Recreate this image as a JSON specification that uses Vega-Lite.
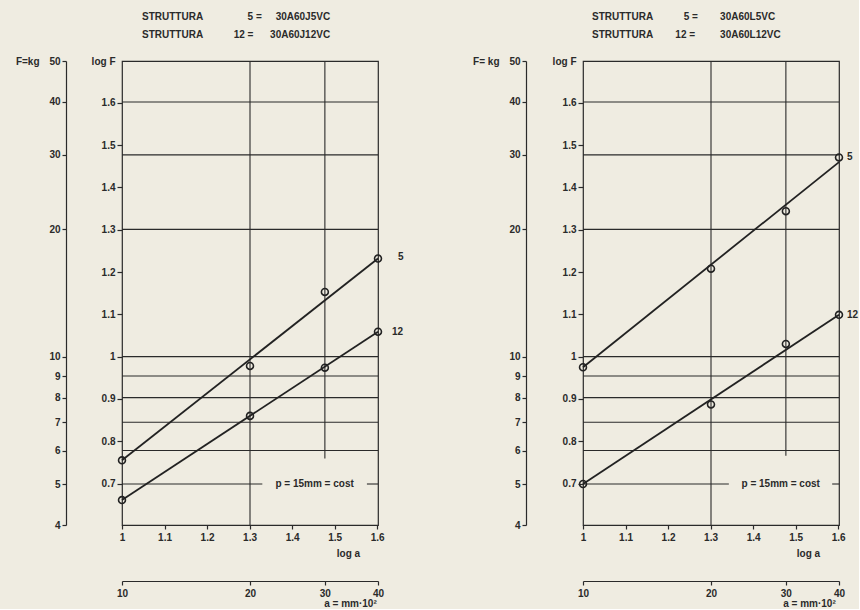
{
  "$schema": "https://vega.github.io/schema/vega-lite/v6.json",
  "autosize": {"type": "pad"},
  "padding": {"left": 14, "top": 11, "right": 0, "bottom": 0},
  "background": "#efece1",
  "datasets": {
    "hgrid": [
      {"panel": "L", "logF": 0.69897, "from": 1, "to": 1.33},
      {"panel": "L", "logF": 0.69897, "from": 1.576, "to": 1.60206},
      {"panel": "L", "logF": 0.77815, "from": 1, "to": 1.60206},
      {"panel": "L", "logF": 0.8451, "from": 1, "to": 1.60206},
      {"panel": "L", "logF": 0.90309, "from": 1, "to": 1.60206},
      {"panel": "L", "logF": 0.95424, "from": 1, "to": 1.60206},
      {"panel": "L", "logF": 1, "from": 1, "to": 1.60206},
      {"panel": "L", "logF": 1.30103, "from": 1, "to": 1.60206},
      {"panel": "L", "logF": 1.47712, "from": 1, "to": 1.60206},
      {"panel": "L", "logF": 1.60206, "from": 1, "to": 1.60206},
      {"panel": "R", "logF": 0.69897, "from": 1, "to": 1.343},
      {"panel": "R", "logF": 0.69897, "from": 1.586, "to": 1.60206},
      {"panel": "R", "logF": 0.77815, "from": 1, "to": 1.60206},
      {"panel": "R", "logF": 0.8451, "from": 1, "to": 1.60206},
      {"panel": "R", "logF": 0.90309, "from": 1, "to": 1.60206},
      {"panel": "R", "logF": 0.95424, "from": 1, "to": 1.60206},
      {"panel": "R", "logF": 1, "from": 1, "to": 1.60206},
      {"panel": "R", "logF": 1.30103, "from": 1, "to": 1.60206},
      {"panel": "R", "logF": 1.47712, "from": 1, "to": 1.60206},
      {"panel": "R", "logF": 1.60206, "from": 1, "to": 1.60206}
    ],
    "vgrid": [
      {"panel": "L", "loga": 1.30103, "from": 0.60206, "to": 1.69897},
      {"panel": "L", "loga": 1.47712, "from": 0.759, "to": 1.69897},
      {"panel": "R", "loga": 1.30103, "from": 0.60206, "to": 1.69897},
      {"panel": "R", "loga": 1.47712, "from": 0.766, "to": 1.69897}
    ],
    "points": [
      {"panel": "L", "series": "5", "loga": 1, "logF": 0.755},
      {"panel": "L", "series": "5", "loga": 1.30103, "logF": 0.978},
      {"panel": "L", "series": "5", "loga": 1.47712, "logF": 1.153},
      {"panel": "L", "series": "5", "loga": 1.60206, "logF": 1.232},
      {"panel": "L", "series": "12", "loga": 1, "logF": 0.661},
      {"panel": "L", "series": "12", "loga": 1.30103, "logF": 0.86},
      {"panel": "L", "series": "12", "loga": 1.47712, "logF": 0.974},
      {"panel": "L", "series": "12", "loga": 1.60206, "logF": 1.059},
      {"panel": "R", "series": "5", "loga": 1, "logF": 0.975},
      {"panel": "R", "series": "5", "loga": 1.30103, "logF": 1.208},
      {"panel": "R", "series": "5", "loga": 1.47712, "logF": 1.344},
      {"panel": "R", "series": "5", "loga": 1.60206, "logF": 1.471},
      {"panel": "R", "series": "12", "loga": 1, "logF": 0.699},
      {"panel": "R", "series": "12", "loga": 1.30103, "logF": 0.887},
      {"panel": "R", "series": "12", "loga": 1.47712, "logF": 1.03},
      {"panel": "R", "series": "12", "loga": 1.60206, "logF": 1.099}
    ],
    "fits": [
      {"panel": "L", "series": "5", "loga": 1, "logF": 0.755},
      {"panel": "L", "series": "5", "loga": 1.60206, "logF": 1.232},
      {"panel": "L", "series": "12", "loga": 1, "logF": 0.661},
      {"panel": "L", "series": "12", "loga": 1.60206, "logF": 1.059},
      {"panel": "R", "series": "5", "loga": 1, "logF": 0.975},
      {"panel": "R", "series": "5", "loga": 1.60206, "logF": 1.46},
      {"panel": "R", "series": "12", "loga": 1, "logF": 0.699},
      {"panel": "R", "series": "12", "loga": 1.60206, "logF": 1.099}
    ],
    "tags": [
      {"panel": "L", "series": "5", "loga": 1.60206, "logF": 1.232},
      {"panel": "L", "series": "12", "loga": 1.60206, "logF": 1.059},
      {"panel": "R", "series": "5", "loga": 1.60206, "logF": 1.471},
      {"panel": "R", "series": "12", "loga": 1.60206, "logF": 1.099}
    ],
    "notes": [
      {"panel": "L", "loga": 1.453, "logF": 0.69897, "text": "p = 15mm = cost"},
      {"panel": "R", "loga": 1.465, "logF": 0.69897, "text": "p = 15mm = cost"}
    ]
  },
  "hconcat": [
    {
      "width": 256,
      "height": 464,
      "title": {
        "text": [
          "STRUTTURA\u00a0\u00a0\u00a0\u00a0\u00a0\u00a0\u00a0\u00a0\u00a0\u00a0\u00a0\u00a0\u00a0\u00a0\u00a0\u00a05\u00a0=\u00a0\u00a0\u00a0\u00a0\u00a030A60J5VC",
          "STRUTTURA\u00a0\u00a0\u00a0\u00a0\u00a0\u00a0\u00a0\u00a0\u00a0\u00a0\u00a012\u00a0=\u00a0\u00a0\u00a0\u00a0\u00a0\u00a030A60J12VC"
        ],
        "dx": 20
      },
      "layer": [
        {
          "layer": [
            {
              "data": {"name": "hgrid"},
              "transform": [{"filter": "datum.panel == 'L'"}],
              "mark": {"type": "rule", "color": "#2a2a2a", "strokeWidth": 1.1},
              "encoding": {
                "x": {"field": "from", "type": "quantitative", "scale": {"domain": [1, 1.60206], "nice": false, "zero": false},
                  "axis": {"orient": "bottom", "values": [1, 1.1, 1.2, 1.3, 1.4, 1.5, 1.6], "labelExpr": "datum.value == 1 ? '1' : format(datum.value, '.1f')", "labelOverlap": false, "domain": false, "tickSize": 4, "labelPadding": 3, "labelFlush": false, "title": "log a", "titleX": 226, "titleY": 28, "titleBaseline": "middle"}},
                "x2": {"field": "to"},
                "y": {"field": "logF", "type": "quantitative", "scale": {"domain": [0.60206, 1.69897], "nice": false, "zero": false},
                  "axis": {"orient": "left", "values": [0.6, 0.7, 0.8, 0.9, 1, 1.1, 1.2, 1.3, 1.4, 1.5, 1.6], "labelExpr": "datum.value == 1 ? '1' : format(datum.value, '.1f')", "labelOverlap": false, "domain": false, "tickSize": 5, "labelPadding": 2, "title": "log F", "titleAngle": 0, "titleAlign": "right", "titleBaseline": "middle", "titleX": -7, "titleY": 0}}
              }
            },
            {
              "data": {"name": "vgrid"},
              "transform": [{"filter": "datum.panel == 'L'"}],
              "mark": {"type": "rule", "color": "#2a2a2a", "strokeWidth": 1.1},
              "encoding": {
                "x": {"field": "loga", "type": "quantitative"},
                "y": {"field": "from", "type": "quantitative"},
                "y2": {"field": "to"}
              }
            },
            {
              "data": {"name": "fits"},
              "transform": [{"filter": "datum.panel == 'L'"}],
              "mark": {"type": "line", "color": "#222222", "strokeWidth": 1.8},
              "encoding": {
                "x": {"field": "loga", "type": "quantitative"},
                "y": {"field": "logF", "type": "quantitative"},
                "detail": {"field": "series"}
              }
            },
            {
              "data": {"name": "points"},
              "transform": [{"filter": "datum.panel == 'L'"}],
              "mark": {"type": "point", "shape": "circle", "filled": false, "size": 48, "color": "#222222", "strokeWidth": 1.6, "opacity": 1},
              "encoding": {
                "x": {"field": "loga", "type": "quantitative"},
                "y": {"field": "logF", "type": "quantitative"}
              }
            },
            {
              "data": {"name": "tags"},
              "transform": [{"filter": "datum.panel == 'L' && datum.series == '5'"}],
              "mark": {"type": "text", "align": "left", "baseline": "middle", "dx": 20, "dy": -2, "fontSize": 10, "fontWeight": "bold", "color": "#2a2a2a"},
              "encoding": {
                "x": {"field": "loga", "type": "quantitative"},
                "y": {"field": "logF", "type": "quantitative"},
                "text": {"field": "series"}
              }
            },
            {
              "data": {"name": "tags"},
              "transform": [{"filter": "datum.panel == 'L' && datum.series == '12'"}],
              "mark": {"type": "text", "align": "left", "baseline": "middle", "dx": 14, "fontSize": 10, "fontWeight": "bold", "color": "#2a2a2a"},
              "encoding": {
                "x": {"field": "loga", "type": "quantitative"},
                "y": {"field": "logF", "type": "quantitative"},
                "text": {"field": "series"}
              }
            },
            {
              "data": {"name": "notes"},
              "transform": [{"filter": "datum.panel == 'L'"}],
              "mark": {"type": "text", "align": "center", "baseline": "middle", "fontSize": 10, "fontWeight": "bold", "color": "#2a2a2a"},
              "encoding": {
                "x": {"field": "loga", "type": "quantitative"},
                "y": {"field": "logF", "type": "quantitative"},
                "text": {"field": "text"}
              }
            }
          ]
        },
        {
          "data": {"name": "points"},
          "transform": [{"filter": "datum.panel == 'L'"}],
          "mark": {"type": "point", "opacity": 0},
          "encoding": {
            "x": {"field": "loga", "type": "quantitative", "scale": {"domain": [1, 1.60206], "nice": false, "zero": false},
              "axis": {"orient": "bottom", "offset": 56, "values": [1, 1.30103, 1.47712, 1.60206], "labelExpr": "format(pow(10, datum.value), '.0f')", "labelOverlap": false, "domain": true, "tickSize": 4, "labelPadding": 3, "labelFlush": false, "title": "a = mm·10²", "titleX": 228, "titleY": 22, "titleBaseline": "middle"}},
            "y": {"field": "logF", "type": "quantitative", "scale": {"domain": [0.60206, 1.69897], "nice": false, "zero": false},
              "axis": {"orient": "left", "offset": 56, "values": [0.60206, 0.69897, 0.77815, 0.8451, 0.90309, 0.95424, 1, 1.30103, 1.47712, 1.60206, 1.69897], "labelExpr": "format(pow(10, datum.value), '.0f')", "labelOverlap": false, "domain": true, "tickSize": 4, "labelPadding": 2, "title": "F=kg", "titleAngle": 0, "titleAlign": "right", "titleBaseline": "middle", "titleX": -27, "titleY": 0}}
          }
        }
      ],
      "resolve": {"scale": {"x": "independent", "y": "independent"}}
    },
    {
      "width": 256,
      "height": 464,
      "title": {
        "text": [
          "STRUTTURA\u00a0\u00a0\u00a0\u00a0\u00a0\u00a0\u00a0\u00a0\u00a0\u00a0\u00a05\u00a0=\u00a0\u00a0\u00a0\u00a0\u00a0\u00a0\u00a0\u00a030A60L5VC",
          "STRUTTURA\u00a0\u00a0\u00a0\u00a0\u00a0\u00a0\u00a0\u00a012\u00a0=\u00a0\u00a0\u00a0\u00a0\u00a0\u00a0\u00a0\u00a0\u00a030A60L12VC"
        ],
        "dx": 9
      },
      "layer": [
        {
          "layer": [
            {
              "data": {"name": "hgrid"},
              "transform": [{"filter": "datum.panel == 'R'"}],
              "mark": {"type": "rule", "color": "#2a2a2a", "strokeWidth": 1.1},
              "encoding": {
                "x": {"field": "from", "type": "quantitative", "scale": {"domain": [1, 1.60206], "nice": false, "zero": false},
                  "axis": {"orient": "bottom", "values": [1, 1.1, 1.2, 1.3, 1.4, 1.5, 1.6], "labelExpr": "datum.value == 1 ? '1' : format(datum.value, '.1f')", "labelOverlap": false, "domain": false, "tickSize": 4, "labelPadding": 3, "labelFlush": false, "title": "log a", "titleX": 225, "titleY": 28, "titleBaseline": "middle"}},
                "x2": {"field": "to"},
                "y": {"field": "logF", "type": "quantitative", "scale": {"domain": [0.60206, 1.69897], "nice": false, "zero": false},
                  "axis": {"orient": "left", "values": [0.6, 0.7, 0.8, 0.9, 1, 1.1, 1.2, 1.3, 1.4, 1.5, 1.6], "labelExpr": "datum.value == 1 ? '1' : format(datum.value, '.1f')", "labelOverlap": false, "domain": false, "tickSize": 5, "labelPadding": 2, "title": "log F", "titleAngle": 0, "titleAlign": "right", "titleBaseline": "middle", "titleX": -7, "titleY": 0}}
              }
            },
            {
              "data": {"name": "vgrid"},
              "transform": [{"filter": "datum.panel == 'R'"}],
              "mark": {"type": "rule", "color": "#2a2a2a", "strokeWidth": 1.1},
              "encoding": {
                "x": {"field": "loga", "type": "quantitative"},
                "y": {"field": "from", "type": "quantitative"},
                "y2": {"field": "to"}
              }
            },
            {
              "data": {"name": "fits"},
              "transform": [{"filter": "datum.panel == 'R'"}],
              "mark": {"type": "line", "color": "#222222", "strokeWidth": 1.8},
              "encoding": {
                "x": {"field": "loga", "type": "quantitative"},
                "y": {"field": "logF", "type": "quantitative"},
                "detail": {"field": "series"}
              }
            },
            {
              "data": {"name": "points"},
              "transform": [{"filter": "datum.panel == 'R'"}],
              "mark": {"type": "point", "shape": "circle", "filled": false, "size": 48, "color": "#222222", "strokeWidth": 1.6, "opacity": 1},
              "encoding": {
                "x": {"field": "loga", "type": "quantitative"},
                "y": {"field": "logF", "type": "quantitative"}
              }
            },
            {
              "data": {"name": "tags"},
              "transform": [{"filter": "datum.panel == 'R'"}],
              "mark": {"type": "text", "align": "left", "baseline": "middle", "dx": 8, "fontSize": 10, "fontWeight": "bold", "color": "#2a2a2a"},
              "encoding": {
                "x": {"field": "loga", "type": "quantitative"},
                "y": {"field": "logF", "type": "quantitative"},
                "text": {"field": "series"}
              }
            },
            {
              "data": {"name": "notes"},
              "transform": [{"filter": "datum.panel == 'R'"}],
              "mark": {"type": "text", "align": "center", "baseline": "middle", "fontSize": 10, "fontWeight": "bold", "color": "#2a2a2a"},
              "encoding": {
                "x": {"field": "loga", "type": "quantitative"},
                "y": {"field": "logF", "type": "quantitative"},
                "text": {"field": "text"}
              }
            }
          ]
        },
        {
          "data": {"name": "points"},
          "transform": [{"filter": "datum.panel == 'R'"}],
          "mark": {"type": "point", "opacity": 0},
          "encoding": {
            "x": {"field": "loga", "type": "quantitative", "scale": {"domain": [1, 1.60206], "nice": false, "zero": false},
              "axis": {"orient": "bottom", "offset": 56, "values": [1, 1.30103, 1.47712, 1.60206], "labelExpr": "format(pow(10, datum.value), '.0f')", "labelOverlap": false, "domain": true, "tickSize": 4, "labelPadding": 3, "labelFlush": false, "title": "a = mm·10²", "titleX": 226, "titleY": 22, "titleBaseline": "middle"}},
            "y": {"field": "logF", "type": "quantitative", "scale": {"domain": [0.60206, 1.69897], "nice": false, "zero": false},
              "axis": {"orient": "left", "offset": 57, "values": [0.60206, 0.69897, 0.77815, 0.8451, 0.90309, 0.95424, 1, 1.30103, 1.47712, 1.60206, 1.69897], "labelExpr": "format(pow(10, datum.value), '.0f')", "labelOverlap": false, "domain": true, "tickSize": 4, "labelPadding": 2, "title": "F= kg", "titleAngle": 0, "titleAlign": "right", "titleBaseline": "middle", "titleX": -27, "titleY": 0}}
          }
        }
      ],
      "resolve": {"scale": {"x": "independent", "y": "independent"}}
    }
  ],
  "spacing": 67,
  "config": {
    "font": "Liberation Sans",
    "view": {"stroke": "#2a2a2a", "strokeWidth": 1.2},
    "title": {"fontSize": 10, "fontWeight": "bold", "color": "#2a2a2a", "lineHeight": 18, "anchor": "start", "align": "left", "frame": "group", "offset": 16},
    "axis": {
      "grid": false,
      "labelFontSize": 10,
      "labelFontWeight": "bold",
      "labelColor": "#2a2a2a",
      "labelOverlap": false,
      "labelBound": false,
      "titleFontSize": 10,
      "titleFontWeight": "bold",
      "titleColor": "#2a2a2a",
      "domainColor": "#2a2a2a",
      "domainWidth": 1.2,
      "tickColor": "#2a2a2a",
      "tickWidth": 1.2
    }
  }
}
